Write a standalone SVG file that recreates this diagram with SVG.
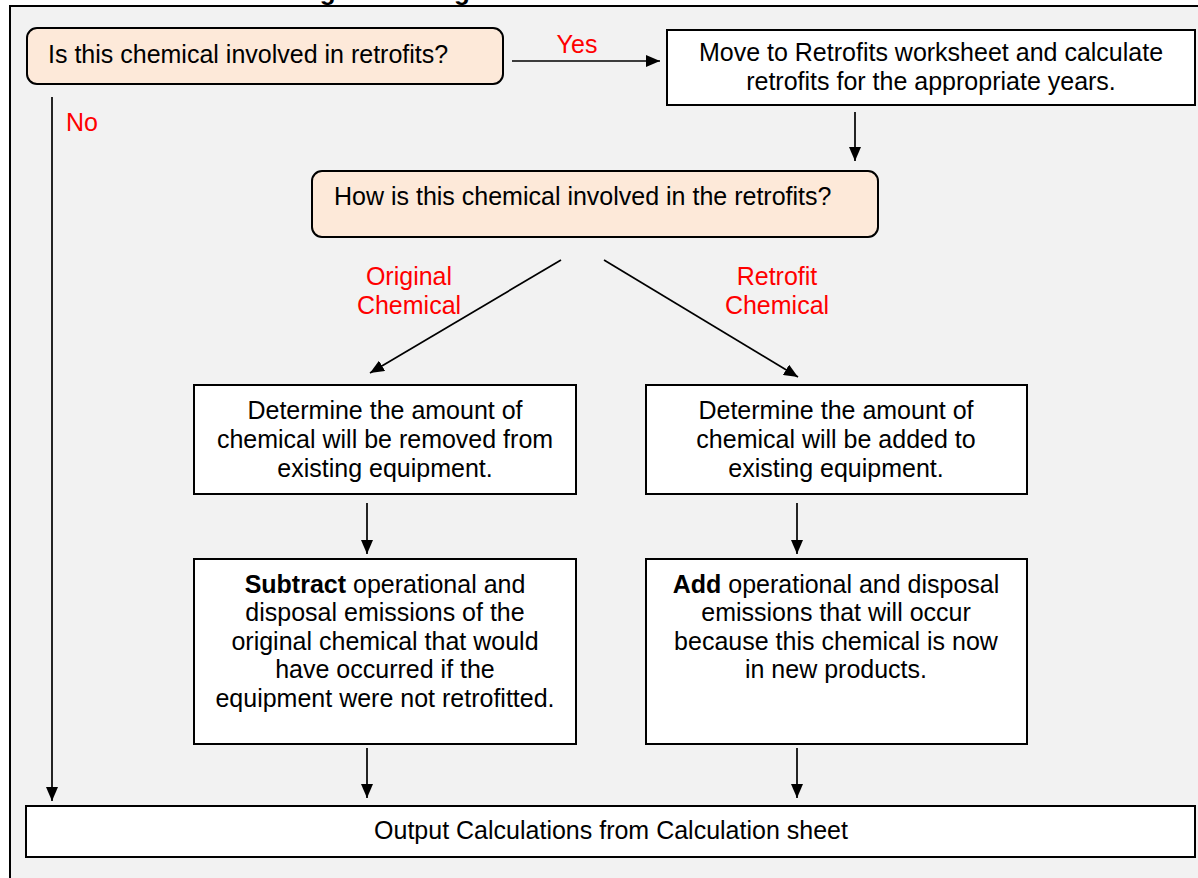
<svg xmlns="http://www.w3.org/2000/svg" width="1198" height="878" viewBox="0 0 1198 878">
<defs>
<marker id="arr" viewBox="0 0 14 12" markerWidth="14" markerHeight="12" refX="14" refY="6" orient="auto" markerUnits="userSpaceOnUse">
<path d="M0,0 L14,6 L0,12 z" fill="#000"/>
</marker>
</defs>
<style>
.t{font-family:"Liberation Sans",Arial,sans-serif;font-size:25px;fill:#000}
.c{text-anchor:middle}
.r{fill:#ff0000}
.b{font-weight:bold}
.box{fill:#fff;stroke:#000;stroke-width:2}
.q{fill:#fde9d9;stroke:#000;stroke-width:2}
.ln{stroke:#000;stroke-width:1.7;fill:none;marker-end:url(#arr)}
</style>
<rect x="0" y="0" width="1198" height="878" fill="#fff"/>
<text class="t b c" x="608" y="0" style="font-size:26px">Figure 3: Diagram of Retrofits Calculation Process</text>
<rect x="10" y="6" width="1200" height="880" fill="#f2f2f2" stroke="#000" stroke-width="2"/>
<g id="connectors">
<line class="ln" x1="512" y1="61" x2="660" y2="61"/>
<line class="ln" x1="855" y1="112" x2="855" y2="161"/>
<line class="ln" x1="561" y1="260" x2="370" y2="373"/>
<line class="ln" x1="604" y1="260" x2="798" y2="377"/>
<line class="ln" x1="367" y1="503" x2="367" y2="554"/>
<line class="ln" x1="797" y1="503" x2="797" y2="554"/>
<line class="ln" x1="367" y1="748" x2="367" y2="798"/>
<line class="ln" x1="797" y1="748" x2="797" y2="798"/>
<line class="ln" x1="52" y1="97" x2="52" y2="801"/>
<text class="t r c" x="577" y="53">Yes</text>
<text class="t r" x="66" y="131">No</text>
<text class="t r c" x="409" y="285">Original</text>
<text class="t r c" x="409" y="314">Chemical</text>
<text class="t r c" x="777" y="285">Retrofit</text>
<text class="t r c" x="777" y="314">Chemical</text>
</g>
<g id="q1">
<rect class="q" x="27" y="28" width="476" height="56" rx="10"/>
<text class="t" x="48" y="63">Is this chemical involved in retrofits?</text>
</g>
<g id="move">
<rect class="box" x="667" y="30" width="528" height="75"/>
<text class="t c" x="931" y="61">Move to Retrofits worksheet and calculate</text>
<text class="t c" x="931" y="90">retrofits for the appropriate years.</text>
</g>
<g id="q2">
<rect class="q" x="312" y="171" width="566" height="66" rx="10"/>
<text class="t" x="334" y="205">How is this chemical involved in the retrofits?</text>
</g>
<g id="removed">
<rect class="box" x="194" y="385" width="382" height="109"/>
<text class="t c" x="385" y="419">Determine the amount of</text>
<text class="t c" x="385" y="448">chemical will be removed from</text>
<text class="t c" x="385" y="477">existing equipment.</text>
</g>
<g id="added">
<rect class="box" x="646" y="385" width="381" height="109"/>
<text class="t c" x="836" y="419">Determine the amount of</text>
<text class="t c" x="836" y="448">chemical will be added to</text>
<text class="t c" x="836" y="477">existing equipment.</text>
</g>
<g id="subtract">
<rect class="box" x="194" y="559" width="382" height="185"/>
<text class="t c" x="385" y="593"><tspan class="b">Subtract</tspan> operational and</text>
<text class="t c" x="385" y="621">disposal emissions of the</text>
<text class="t c" x="385" y="650">original chemical that would</text>
<text class="t c" x="385" y="678">have occurred if the</text>
<text class="t c" x="385" y="707">equipment were not retrofitted.</text>
</g>
<g id="add">
<rect class="box" x="646" y="559" width="381" height="185"/>
<text class="t c" x="836" y="593"><tspan class="b">Add</tspan> operational and disposal</text>
<text class="t c" x="836" y="621">emissions that will occur</text>
<text class="t c" x="836" y="650">because this chemical is now</text>
<text class="t c" x="836" y="678">in new products.</text>
</g>
<g id="output">
<rect class="box" x="26" y="806" width="1169" height="51"/>
<text class="t c" x="611" y="839">Output Calculations from Calculation sheet</text>
</g>
</svg>
